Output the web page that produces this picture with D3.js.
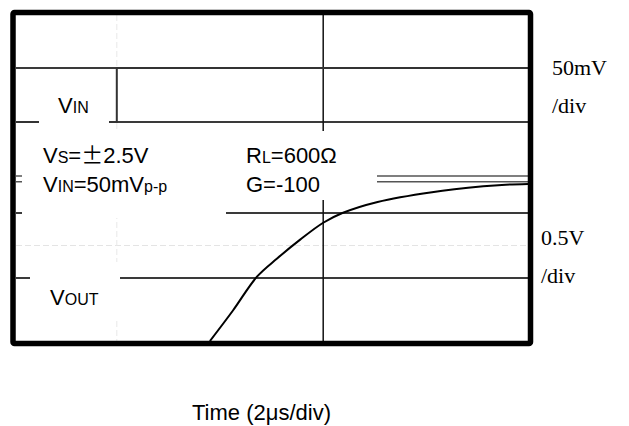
<!DOCTYPE html>
<html><head><meta charset="utf-8">
<script src="https://cdn.jsdelivr.net/npm/d3@7"></script>
<style>html,body{margin:0;padding:0;background:#fff;}svg{display:block;}</style>
</head><body>
<script>
// ---- data ----
const timeDomain = [0, 16];              // μs (2μs/div)
const vinGrid = [25, -25];               // mV grid lines (50mV/div)
const vinT = [0, 3.15, 3.15, 16];        // input step, μs
const vinV = [-25, -25, 25, 25];         // input step, mV
const voutGrid = [0, -0.5];              // V grid lines (0.5V/div)
const voutDashed = [-0.25];
const voutRef = [0.285, 0.24];           // reference traces, V
const voutT = [6.06, 6.78, 7.53, 8.16, 8.88, 9.6, 10.2, 11.3, 13.0, 14.6, 15.3, 16.0];
const voutV = [-0.985, -0.75, -0.49, -0.35, -0.205, -0.075, 0.0, 0.085, 0.16, 0.205, 0.218, 0.224];
const cursorT = [9.6];
const stepDashedT = [3.15];

const W = 629, H = 426;
const P = {x0: 16, x1: 528, y0: 15, y1: 341};
const svg = d3.select("body").append("svg").attr("width", W).attr("height", H);
svg.append("rect").attr("width", W).attr("height", H).attr("fill", "#fff");

const x = d3.scaleLinear().domain(timeDomain).range([P.x0, P.x1]);
const yIn = d3.scaleLinear().domain([-25, 25]).range([122, 68]);
const yOut = d3.scaleLinear().domain([-0.5, 0]).range([278, 213]);

svg.append("clipPath").attr("id", "clip").append("rect")
  .attr("x", P.x0).attr("y", P.y0).attr("width", P.x1 - P.x0).attr("height", P.y1 - P.y0);
const g = svg.append("g").attr("clip-path", "url(#clip)");

// faint dashed lines
g.selectAll(".hd").data(voutDashed).join("line")
  .attr("x1", P.x0).attr("x2", P.x1).attr("y1", d => yOut(d)).attr("y2", d => yOut(d))
  .attr("stroke", "#e4e4e4").attr("stroke-width", 1).attr("stroke-dasharray", "6,3");
g.selectAll(".vd").data(stepDashedT).join("line")
  .attr("x1", d => x(d)).attr("x2", d => x(d)).attr("y1", P.y0).attr("y2", P.y1)
  .attr("stroke", "#e8e8e8").attr("stroke-width", 1).attr("stroke-dasharray", "6,3");

// grid lines
g.selectAll(".gi").data(vinGrid).join("line")
  .attr("x1", P.x0).attr("x2", P.x1).attr("y1", d => yIn(d)).attr("y2", d => yIn(d))
  .attr("stroke", "#3a3a3a").attr("stroke-width", 2);
g.selectAll(".go").data(voutGrid).join("line")
  .attr("x1", P.x0).attr("x2", P.x1).attr("y1", d => yOut(d)).attr("y2", d => yOut(d))
  .attr("stroke", "#3a3a3a").attr("stroke-width", 2);
g.selectAll(".gr").data(voutRef).join("line")
  .attr("x1", P.x0).attr("x2", P.x1).attr("y1", d => yOut(d)).attr("y2", d => yOut(d))
  .attr("stroke", "#555").attr("stroke-width", 1.6);
g.selectAll(".cur").data(cursorT).join("line")
  .attr("x1", d => x(d)).attr("x2", d => x(d)).attr("y1", P.y0).attr("y2", P.y1)
  .attr("stroke", "#111").attr("stroke-width", 1.5);

// input step
g.append("path")
  .attr("d", d3.line().x((d, i) => x(vinT[i])).y(d => yIn(d))(vinV))
  .attr("fill", "none").attr("stroke", "#333").attr("stroke-width", 2);

// output curve
g.append("path")
  .attr("d", d3.line().curve(d3.curveCatmullRom.alpha(0.5)).x((d, i) => x(voutT[i])).y(d => yOut(d))(voutV))
  .attr("fill", "none").attr("stroke", "#000").attr("stroke-width", 2);

// white label boxes
const boxes = [
  {x: 39, y: 85, w: 70, h: 44},
  {x: 22, y: 130, w: 204, h: 88},
  {x: 226, y: 131, w: 151, h: 69},
  {x: 30, y: 262, w: 90, h: 56}
];
svg.selectAll(".box").data(boxes).join("rect")
  .attr("x", d => d.x).attr("y", d => d.y).attr("width", d => d.w).attr("height", d => d.h)
  .attr("fill", "#fff");

// frame
svg.append("rect").attr("x", 13).attr("y", 12.5).attr("width", 517.5).attr("height", 331)
  .attr("fill", "none").attr("stroke", "#000").attr("stroke-width", 5.5).attr("rx", 1.5);

// text helpers
const SANS = "'Liberation Sans', Arial, sans-serif";
const SERIF = "'Liberation Serif', 'Times New Roman', serif";
function rich(px, py, parts, size) {
  const t = svg.append("text").attr("x", px).attr("y", py)
    .attr("font-family", SANS).attr("font-size", size).attr("fill", "#000");
  parts.forEach(p => {
    const s = t.append("tspan").text(p[0]);
    if (p[1]) s.attr("font-size", p[1]);
    if (p[2]) s.attr("font-family", p[2]);
  });
  return t;
}
rich(58, 113, [["V"], ["IN", 16]], 22);
rich(43, 163, [["V"], ["S", 16], ["="], ["±", null, "'Noto Sans CJK JP', sans-serif"], ["2.5V"]], 22);
rich(43, 192, [["V"], ["IN", 16], ["=50mV"], ["p-p", 16]], 22);
rich(246, 163, [["R"], ["L", 16], ["=600Ω"]], 22);
rich(246, 192, [["G=-100"]], 22);
rich(50, 305, [["V"], ["OUT", 16]], 22);

const serifLabels = [
  {t: "50mV", x: 552, y: 75}, {t: "/div", x: 552, y: 113},
  {t: "0.5V", x: 541, y: 245}, {t: "/div", x: 541, y: 283}
];
svg.selectAll(".sl").data(serifLabels).join("text")
  .attr("x", d => d.x).attr("y", d => d.y).text(d => d.t)
  .attr("font-family", SERIF).attr("font-size", 22).attr("fill", "#000");

svg.append("text").attr("x", 192).attr("y", 420)
  .attr("font-family", SANS).attr("font-size", 22).attr("fill", "#000")
  .text("Time (2μs/div)");
</script>
</body></html>
